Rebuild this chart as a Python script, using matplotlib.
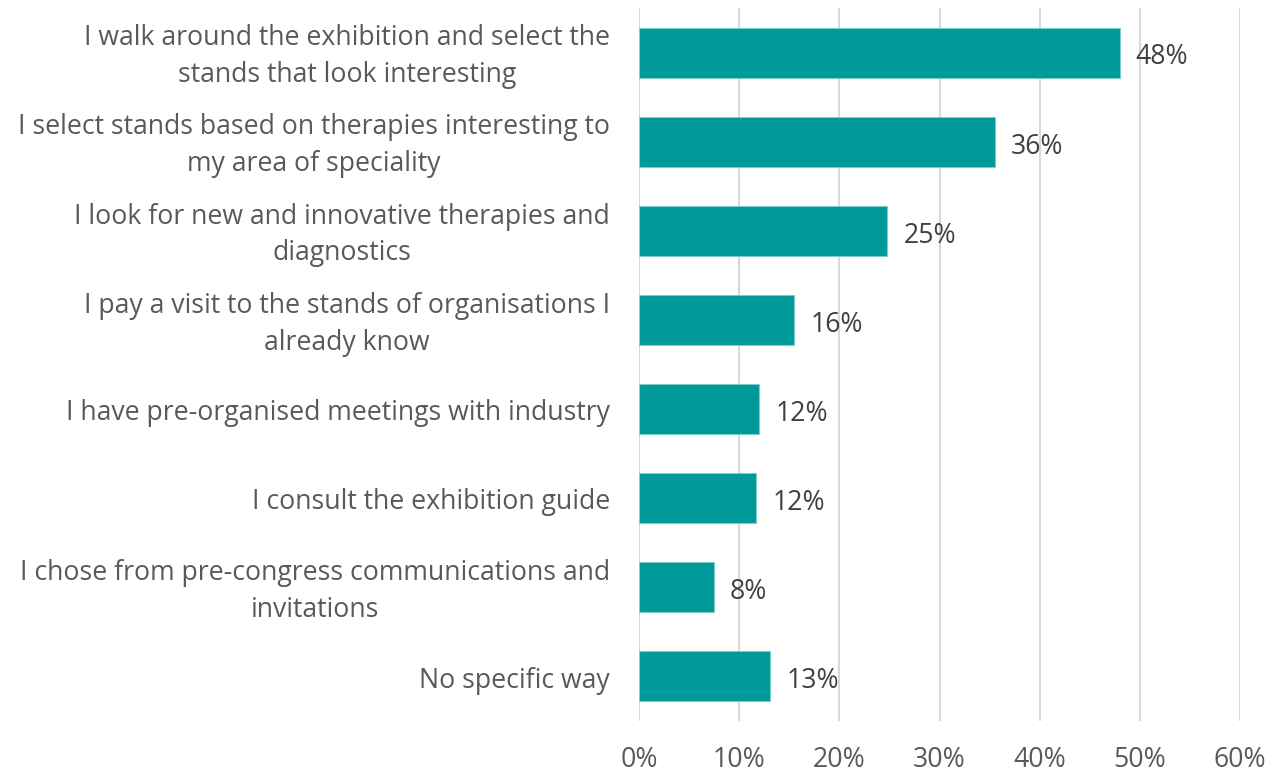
import matplotlib
matplotlib.use("Agg")
import matplotlib.pyplot as plt
from matplotlib.ticker import FuncFormatter

categories = [
    "I walk around the exhibition and select the\nstands that look interesting",
    "I select stands based on therapies interesting to\nmy area of speciality",
    "I look for new and innovative therapies and\ndiagnostics",
    "I pay a visit to the stands of organisations I\nalready know",
    "I have pre-organised meetings with industry",
    "I consult the exhibition guide",
    "I chose from pre-congress communications and\ninvitations",
    "No specific way",
]
values = [48.0, 35.5, 24.8, 15.5, 12.0, 11.7, 7.5, 13.1]
value_labels = ["48%", "36%", "25%", "16%", "12%", "12%", "8%", "13%"]
xticks = [0, 10, 20, 30, 40, 50, 60]

plt.rcParams['font.family'] = ['Open Sans', 'DejaVu Sans']
text_color = "#595959"
bar_color = "#009999"
fs = 19.2

fig = plt.figure(figsize=(12.69, 7.73), dpi=100)
ax = fig.add_axes([639/1269, 1 - 721/773, (1240-639)/1269, (721-8)/773])

y = list(range(len(categories)))
ax.barh(y, values, height=0.56, color=bar_color, edgecolor="#7fcccc", linewidth=0.8, zorder=3)
ax.set_ylim(len(categories) - 0.5, -0.5)
ax.set_xlim(0, 60)
ax.set_xticks(xticks)
ax.xaxis.set_major_formatter(FuncFormatter(lambda v, p: f"{int(v)}%"))
ax.set_yticks(y)
ax.set_yticklabels([])
ax.tick_params(axis="y", length=0)
ax.tick_params(axis="x", length=0, pad=18, labelsize=fs, labelcolor=text_color)
ax.grid(axis="x", color="#d9d9d9", linewidth=1.5, zorder=0)
for s in ax.spines.values():
    s.set_visible(False)

for yi, cat in zip(y, categories):
    ax.annotate(cat, xy=(0, yi), xycoords=ax.get_yaxis_transform(),
                xytext=(-21, -3), textcoords="offset points",
                ha="right", va="center", multialignment="center",
                linespacing=1.42, fontsize=fs, color=text_color,
                annotation_clip=False)

for yi, v, lab in zip(y, values, value_labels):
    ax.annotate(lab, xy=(v, yi), xytext=(11.5, -3.5), textcoords="offset points",
                va="center", ha="left", fontsize=fs, color="#404040")

fig.savefig("out.png", dpi=100)
